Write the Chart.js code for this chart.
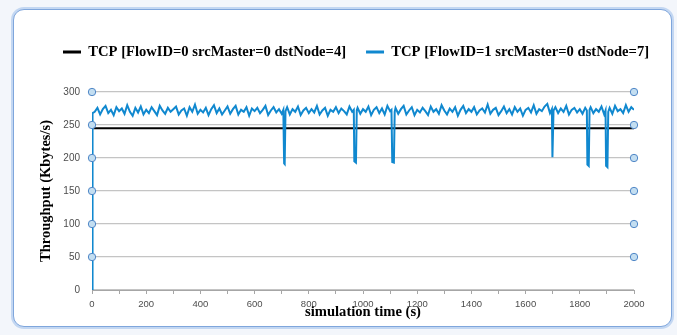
<!DOCTYPE html>
<html>
<head>
<meta charset="utf-8">
<script src="https://cdn.jsdelivr.net/npm/chart.js@4.4.0/dist/chart.umd.min.js"></script>
<style>
  html, body { margin:0; padding:0; width:677px; height:335px; overflow:hidden; background:#f3f6fb; }
  #frame { position:absolute; left:13px; top:9px; width:657px; height:316px; background:#fff;
           border:1px solid #7fa6dc; border-radius:11px; box-shadow:0 0 0 2px #c3d7f2; }
  #c { position:absolute; left:0; top:0; }
</style>
</head>
<body>
<div id="frame"></div>
<canvas id="c" width="677" height="335"></canvas>
<script>
// ---- data ----
const seriesNames = [
  'TCP [FlowID=0 srcMaster=0 dstNode=4]',
  'TCP [FlowID=1 srcMaster=0 dstNode=7]'
];
const blackTimes = [0, 2000];
const blackValues = [245, 245];

const blueTimes = [
  0, 2,
  10,20,30,40,50,60,70,80,90,100,
  110,120,130,140,150,160,170,180,190,200,
  210,220,230,240,250,260,270,280,290,300,
  310,320,330,340,350,360,370,380,390,400,
  410,420,430,440,450,460,470,480,490,500,
  510,520,530,540,550,560,570,580,590,600,
  610,620,630,640,650,660,670,680,690,700,
  706,709,711,714,
  720,730,740,750,760,770,780,790,800,
  810,820,830,840,850,860,870,880,890,900,
  910,920,930,940,950,960,
  966,968,974,977,
  980,990,1000,
  1010,1020,1030,1040,1050,1060,1070,1080,1090,1100,
  1105,1108,1114,1117,
  1120,1130,1140,1150,1160,1170,1180,1190,1200,
  1210,1220,1230,1240,1250,1260,1270,1280,1290,1300,
  1310,1320,1330,1340,1350,1360,1370,1380,1390,1400,
  1410,1420,1430,1440,1450,1460,1470,1480,1490,1500,
  1510,1520,1530,1540,1550,1560,1570,1580,1590,1600,
  1610,1620,1630,1640,1650,1660,1670,1680,1690,
  1697,1699,1701,1703,
  1710,1720,1730,1740,1750,1760,1770,1780,1790,1800,
  1810,1820,
  1826,1828,1833,1836,
  1840,1850,1860,1870,1880,1890,
  1895,1897,1902,1905,
  1910,1920,1930,1940,1950,1960,1970,1980,1990,2000
];
const blueValues = [
  0, 268,
  270,276,266,274,279,268,273,265,277,271,
  275,267,280,270,264,276,269,278,266,273,
  268,277,271,265,279,272,267,276,270,274,
  278,266,272,275,264,277,270,281,267,273,
  269,276,265,274,280,268,275,266,272,278,
  267,274,279,266,273,270,277,264,275,271,
  276,268,273,279,265,272,277,269,274,267,
  273,192,191,271,
  277,266,274,270,278,265,272,276,268,
  274,269,279,266,272,276,264,273,270,277,
  268,275,271,266,278,270,
  273,195,193,272,
  276,267,274,
  270,278,265,273,277,268,275,266,279,271,
  273,194,193,270,
  276,267,274,279,266,272,277,265,273,
  269,276,271,265,278,270,274,267,280,272,
  266,275,270,277,264,273,279,268,274,270,
  277,266,272,275,269,281,267,273,276,265,
  271,278,268,274,266,277,270,275,264,273,
  276,269,280,267,274,271,278,282,268,
  274,201,201,272,
  277,268,275,270,279,266,273,276,269,274,
  267,276,
  272,190,188,273,
  277,268,274,270,278,266,
  272,188,186,270,
  276,267,279,271,274,268,280,270,277,273
];
// gridline selection handles (left and right ends of value gridlines)
const handleTimes = [0, 2000];
const handleValues = [50, 100, 150, 200, 250, 300];

const xMin = 0, xMax = 2000, xStep = 100, xLabelEvery = 200;
const yMin = 0, yMax = 300, yStep = 50;
const xTitle = 'simulation time (s)';
const yTitle = 'Throughput (Kbytes/s)';

// ---- build ----
const toPts = (xs, ys) => xs.map((x, i) => ({x, y: ys[i]}));
const handlePts = [];
handleTimes.forEach(t => handleValues.forEach(v => handlePts.push({x: t, y: v})));

const legendGap = {
  id: 'legendGap',
  beforeInit(chart) {
    const lg = chart.legend;
    if (lg && !lg._patched) {
      const f = lg.fit;
      lg.fit = function() { f.call(this); this.height += 22.7; };
      lg._patched = true;
    }
  }
};

const serif = "'Liberation Serif', 'Times New Roman', serif";
const sans = "'Liberation Sans', Arial, sans-serif";

new Chart(document.getElementById('c'), {
  type: 'line',
  data: {
    datasets: [
      { label: seriesNames[0], data: toPts(blackTimes, blackValues), borderColor: '#000000', backgroundColor: '#000000',
        borderWidth: 2, pointRadius: 0, tension: 0, order: 2 },
      { label: seriesNames[1], data: toPts(blueTimes, blueValues), borderColor: '#1088cf', backgroundColor: '#1088cf',
        borderWidth: 2, pointRadius: 0, tension: 0, order: 1 },
      { label: 'handles', data: handlePts, showLine: false, pointRadius: 3.7, pointBorderWidth: 1,
        pointBackgroundColor: '#c3def1', pointBorderColor: '#4f86c6', borderColor: '#4f86c6', clip: false, order: 0 }
    ]
  },
  options: {
    responsive: false,
    animation: false,
    devicePixelRatio: 1,
    events: [],
    layout: { padding: { left: 43, right: 0, top: 24.7, bottom: 14 } },
    plugins: {
      tooltip: { enabled: false },
      legend: {
        position: 'top',
        align: 'start',
        labels: {
          boxWidth: 18, boxHeight: 3, padding: 20, color: '#000',
          font: { family: serif, size: 14.6, weight: 'bold' },
          filter: (item) => item.datasetIndex < 2,
          sort: (a, b) => a.datasetIndex - b.datasetIndex,
          generateLabels(chart) {
            return Chart.defaults.plugins.legend.labels.generateLabels(chart)
              .map(i => Object.assign({}, i, { lineWidth: 0, fillStyle: i.strokeStyle }));
          }
        }
      }
    },
    scales: {
      x: {
        type: 'linear', min: xMin, max: xMax,
        ticks: {
          stepSize: xStep, autoSkip: false, maxRotation: 0, padding: 5, color: '#4d4d4d',
          font: { family: sans, size: 9.5 },
          callback: (v) => (v % xLabelEvery === 0 ? String(v) : '')
        },
        grid: { drawOnChartArea: false, drawTicks: true, tickLength: 4, color: '#a6a6a6', lineWidth: 1 },
        border: { display: true, color: '#a6a6a6', width: 1 },
        title: { display: true, text: xTitle, color: '#000', padding: { top: 0, bottom: 0 },
          font: { family: serif, size: 14.6, weight: 'bold' } },
        afterFit: (s) => { s.height = 31; }
      },
      y: {
        min: yMin, max: yMax,
        ticks: { stepSize: yStep, padding: 12, color: '#4d4d4d',
          font: { family: sans, size: 10 } },
        grid: { drawTicks: false, color: '#c4c4c4', lineWidth: 1.3 },
        border: { display: false },
        title: { display: true, text: yTitle, color: '#000', padding: { top: -5.7, bottom: 0 },
          font: { family: serif, size: 14.5, weight: 'bold' } },
        afterFit: (s) => { s.width = 49; }
      },
      rightSpace: {
        position: 'right', display: true,
        ticks: { display: false }, grid: { display: false }, border: { display: false },
        afterFit: (s) => { s.width = 43; }
      }
    }
  },
  plugins: [legendGap]
});
</script>
</body>
</html>
